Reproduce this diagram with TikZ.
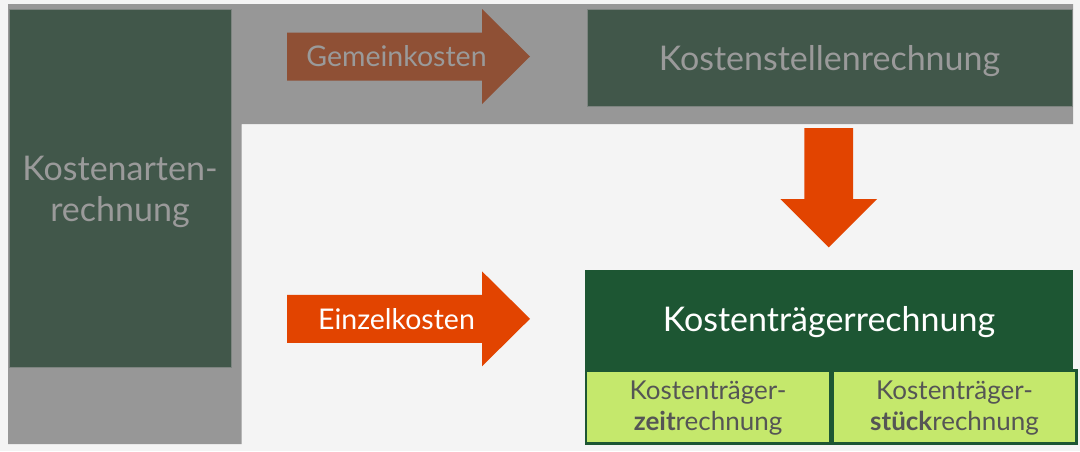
\documentclass[tikz,border=0pt]{standalone}
\usepackage{fontspec}
\setmainfont{Lato}
\usepackage{tikz}
\usetikzlibrary{positioning}

\definecolor{hintergrund}{HTML}{F4F4F4}
\definecolor{grau}{HTML}{979797}
\definecolor{dunkelgruen}{HTML}{41574A}
\definecolor{traegergruen}{HTML}{1D5633}
\definecolor{hellgruen}{HTML}{C5E86C}
\definecolor{braun}{HTML}{8F5035}
\definecolor{pfeilorange}{HTML}{E24400}
\definecolor{textgrau}{HTML}{9A9A9A}
\definecolor{zelltext}{HTML}{555555}

% lower a line of text without changing its box
\newcommand{\tief}[2][3.5pt]{\raisebox{-#1}[\height][\depth]{#2}}

\tikzset{
	rechnung/.style={fill=dunkelgruen, draw=grau!70!dunkelgruen, line width=0.6pt,
		text=textgrau, inner sep=0pt, align=center,
		font=\fontsize{34}{41}\selectfont},
	traeger/.style={fill=traegergruen, text=white, inner sep=0pt,
		minimum width=488, minimum height=99,
		font=\fontsize{34}{41}\selectfont},
	zelle/.style={fill=hellgruen, draw=traegergruen, line width=2.5pt,
		text=zelltext, inner sep=0pt, align=center,
		minimum width=244, minimum height=73,
		font=\fontsize{26}{30.7}\selectfont},
	pfeiltext/.style={inner sep=0pt, anchor=base,
		font=\fontsize{28.5}{32}\selectfont}
}

\begin{document}
\begin{tikzpicture}[x=1pt,y=-1pt]
	\useasboundingbox (0,0) rectangle (1080,451);
	\fill[hintergrund] (0,0) rectangle (1080,451);
	
	% grey L-shaped band
	\fill[grau] (8,4) -- (1073,4) -- (1073,124) -- (241.5,124)
		-- (241.5,444) -- (8,444) -- cycle;
	
	% boxes
	\node[rechnung, minimum width=222, minimum height=357.5]
		(arten) at (120,188.25) {\tief[4pt]{Kostenarten-}\\\tief[4pt]{rechnung}};
	\node[rechnung, minimum width=485, minimum height=96.5]
		(stellen) at (829.5,57.75) {\tief[3.7pt]{Kostenstellenrechnung}};
	\node[traeger] (traeger) at (829,319.5) {\tief[3pt]{Kostenträgerrechnung}};
	\node[zelle, anchor=north west] (zeit) at (traeger.south west)
		{\tief[1pt]{Kostenträger-}\\\tief[1pt]{\textbf{zeit}rechnung}};
	\node[zelle, right=0pt of zeit] (stueck)
		{\tief[1pt]{Kostenträger-}\\\tief[1pt]{\textbf{stück}rechnung}};
	
	% right arrows
	\foreach \n/\y/\c in {gemein/56.5/braun, einzel/318.8/pfeilorange}{
		\coordinate (\n) at (287,\y);
		\fill[\c] (\n) ++(0,-24) -- (482,{\y-24}) -- (482,{\y-47.5})
			-- (530,\y) -- (482,{\y+47.5}) -- (482,{\y+24})
			-- (287,{\y+24}) -- cycle;
	}
	\node[pfeiltext, text=textgrau] (gemeintext) at (396.5,66.7) {Gemeinkosten};
	\node[pfeiltext, text=white] (einzeltext) at (396.5,329.3) {Einzelkosten};
	
	% down arrow
	\coordinate (runter) at (828.7,128);
	\fill[pfeilorange] (runter) ++(-24.3,0) -- ++(48.6,0) -- ++(0,71)
		-- ++(24,0) -- (runter |- 0,247.3) -- ++(-48.3,-48.3)
		-- ++(24,0) -- cycle;
\end{tikzpicture}
\end{document}
